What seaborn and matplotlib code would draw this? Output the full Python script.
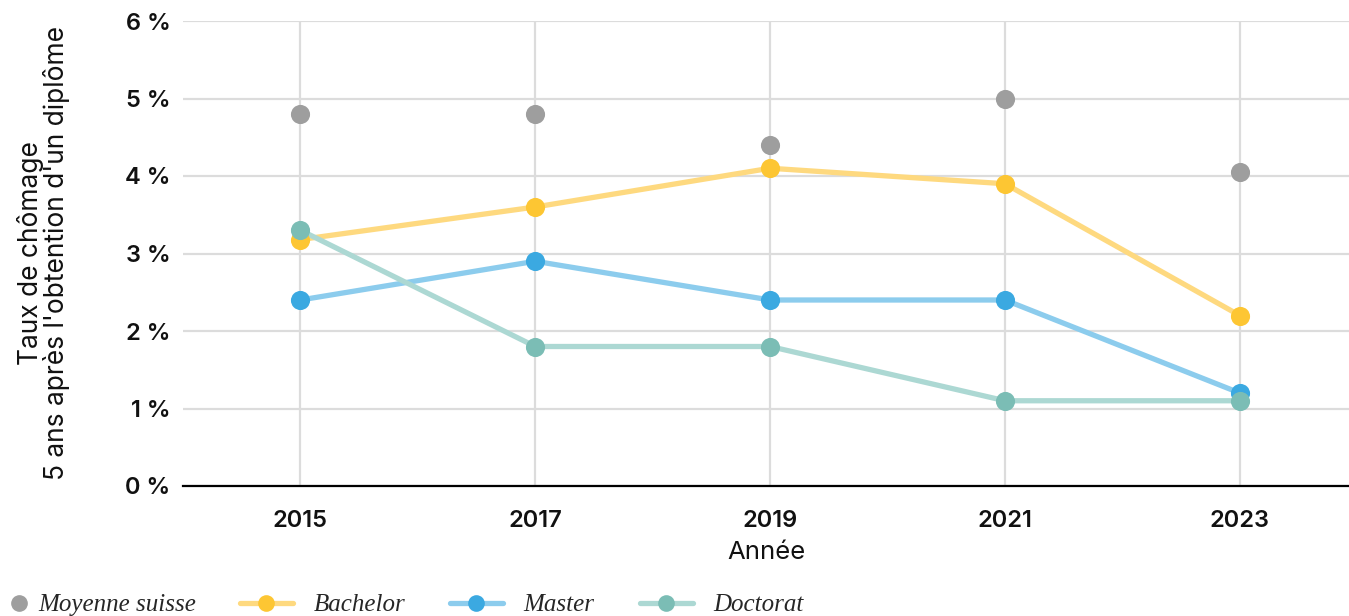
import matplotlib
matplotlib.use("Agg")
import matplotlib.pyplot as plt
from matplotlib.lines import Line2D
import seaborn as sns
import pandas as pd

years = [2015, 2017, 2019, 2021, 2023]
moyenne = [4.8, 4.8, 4.4, 5.0, 4.05]
bachelor = [3.18, 3.6, 4.1, 3.9, 2.2]
master = [2.4, 2.9, 2.4, 2.4, 1.2]
doctorat = [3.3, 1.8, 1.8, 1.1, 1.1]
y_ticks = [0, 1, 2, 3, 4, 5, 6]
y_tick_labels = [f"{v} %" for v in y_ticks]

series = [
    ("Bachelor", bachelor, "#fed97f", "#fdc633"),
    ("Master", master, "#8ccced", "#3ba9e1"),
    ("Doctorat", doctorat, "#acd8d3", "#7bbdb5"),
]
gray = "#9e9e9e"

sns.set_theme(style="white")
plt.rcParams["font.family"] = ["Inter", "DejaVu Sans"]

fig = plt.figure(figsize=(13.49, 6.16), dpi=100)
W, H = 1349, 616
ax = fig.add_axes([183 / W, (H - 486) / H, (W - 183) / W, (486 - 21) / H])

df_m = pd.DataFrame({"Année": years, "Taux": moyenne})
sns.scatterplot(data=df_m, x="Année", y="Taux", ax=ax, color=gray, s=190,
                linewidth=0, zorder=3, legend=False)

for name, vals, lc, mc in series:
    d = pd.DataFrame({"Année": years, "Taux": vals})
    sns.lineplot(data=d, x="Année", y="Taux", ax=ax, color=lc, linewidth=3.8,
                 zorder=3, legend=False)
for name, vals, lc, mc in series:
    d = pd.DataFrame({"Année": years, "Taux": vals})
    sns.scatterplot(data=d, x="Année", y="Taux", ax=ax, color=mc, s=190,
                    linewidth=0, zorder=4, legend=False)

ax.set_xlim(2014.0, 2023.93)
ax.set_ylim(0, 6)
ax.set_xticks(years)
ax.set_xticklabels([str(y) for y in years])
ax.set_yticks(y_ticks)
ax.set_yticklabels(y_tick_labels)
ax.grid(True, color="#dcdcdc", linewidth=1.6, zorder=0)
ax.set_axisbelow(True)
for s in ["top", "right", "left"]:
    ax.spines[s].set_visible(False)
ax.spines["bottom"].set_color("black")
ax.spines["bottom"].set_linewidth(1.6)
ax.spines["bottom"].set_zorder(2)
ax.tick_params(axis="both", length=0, labelsize=17, colors="#111111")
ax.tick_params(axis="x", pad=17)
ax.tick_params(axis="y", pad=9)
for lab in ax.get_xticklabels() + ax.get_yticklabels():
    lab.set_fontweight("semibold")

ax.set_xlabel("Année", fontsize=18.5, color="#111111", labelpad=7)
ax.set_ylabel("Taux de chômage\n5 ans après l'obtention d'un diplôme",
              fontsize=19, color="#111111", linespacing=0.95)
ax.yaxis.set_label_coords(-0.097, 0.502)

legend_font = {"family": ["Liberation Serif", "DejaVu Serif"], "style": "italic", "size": 18}
ly = (H - 605) / H
h0 = Line2D([], [], color=gray, marker="o", markersize=11, linestyle="none")
fig.legend(handles=[h0], labels=["Moyenne suisse"], loc="center left",
           bbox_to_anchor=(10 / W, ly), frameon=False, prop=legend_font,
           handlelength=0.75, handletextpad=0.4, borderpad=0, borderaxespad=0)
starts = [240, 450, 640]
for (name, vals, lc, mc), x0 in zip(series, starts):
    h = Line2D([], [], color=lc, linewidth=3.8, marker="o", markersize=12,
               markerfacecolor=mc, markeredgewidth=0)
    fig.legend(handles=[h], labels=[name], loc="center left",
               bbox_to_anchor=(x0 / W, ly), frameon=False, prop=legend_font,
               handlelength=2.1, handletextpad=0.85, borderpad=0, borderaxespad=0)

fig.savefig("out.png", dpi=100)
